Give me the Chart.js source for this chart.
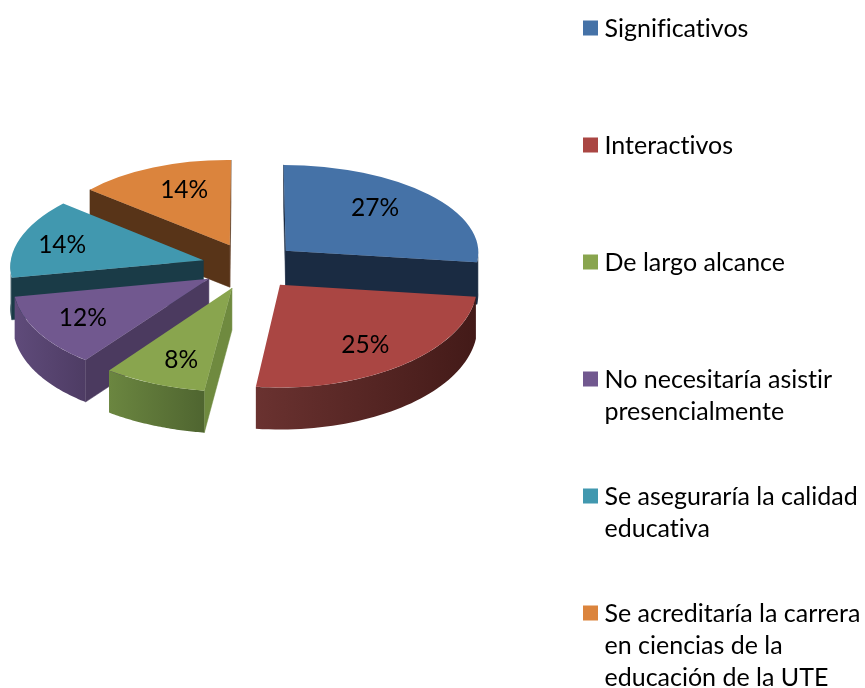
<!DOCTYPE html>
<html>
<head>
<meta charset="utf-8">
<title>Pie</title>
<style>
  html, body { margin: 0; padding: 0; background: #fff; }
  canvas { display: block; }
</style>
<script src="https://cdn.jsdelivr.net/npm/chart.js@4"></script>
</head>
<body>
<canvas id="pieChart" width="865" height="688"></canvas>
<script>
// values
var categories = [
    ['Significativos'],
    ['Interactivos'],
    ['De largo alcance'],
    ['No necesitaría asistir', 'presencialmente'],
    ['Se aseguraría la calidad', 'educativa'],
    ['Se acreditaría la carrera', 'en ciencias de la', 'educación de la UTE']
];
var percents = [27, 25, 8, 12, 14, 14];

var topColors = ['#4572a7', '#aa4643', '#89a54e', '#71588f', '#4198af', '#db843d'];
var radialColors = ['#1a2b42', '#4a1c1a', '#6f8a3f', '#4b3a5f', '#1a3b47', '#583418'];
var outerLeft = ['#1a2b42', '#6a3230', '#6b8640', '#5f4b7a', '#1a3b47', '#583418'];
var outerRight = ['#1a2b42', '#431a18', '#4f6530', '#4e3c64', '#1a3b47', '#583418'];

// small hand nudges for the percent labels
var labelNudge = [[-7, -2], [-3, 5], [3, 6], [-7, 3], [-13, 1], [8, 0]];

// fake 3D view of the flat pie
var view = { cx: 250, cy: 266, rx: 193, ry: 93.5, persp: 0.0665, explode: 0.25, depth: 42 };

function project(u, v) {
    var w = 1 / (1 - view.persp * v);
    return { x: view.cx + view.rx * u * w, y: view.cy + view.ry * v * w };
}

// affine that puts one flat arc onto its tilted spot
function sliceMatrix(arc) {
    var r = arc.outerRadius, a1 = arc.startAngle, a2 = arc.endAngle, mid = (a1 + a2) / 2;
    var ox = view.explode * Math.cos(mid), oy = view.explode * Math.sin(mid);
    var p0 = project(ox, oy);
    var p1 = project(ox + Math.cos(a1), oy + Math.sin(a1));
    var p2 = project(ox + Math.cos(a2), oy + Math.sin(a2));
    var sx1 = r * Math.cos(a1), sy1 = r * Math.sin(a1);
    var sx2 = r * Math.cos(a2), sy2 = r * Math.sin(a2);
    var det = sx1 * sy2 - sx2 * sy1;
    var dx1 = p1.x - p0.x, dy1 = p1.y - p0.y, dx2 = p2.x - p0.x, dy2 = p2.y - p0.y;
    var a = (dx1 * sy2 - dx2 * sy1) / det;
    var c = (dx2 * sx1 - dx1 * sx2) / det;
    var b = (dy1 * sy2 - dy2 * sy1) / det;
    var d = (dy2 * sx1 - dy1 * sx2) / det;
    return {
        a: a, b: b, c: c, d: d,
        e: p0.x - a * arc.x - c * arc.y,
        f: p0.y - b * arc.x - d * arc.y,
        apex: p0, start: p1, end: p2
    };
}

function applyTo(m, x, y) {
    return { x: m.a * x + m.c * y + m.e, y: m.b * x + m.d * y + m.f };
}

// true when the rest of the slice lies above the edge apex->edge, so its wall shows
function wallShows(apex, edge, other) {
    var dx = edge.x - apex.x;
    if (Math.abs(dx) < 0.01) return false;
    var lineY = apex.y + (other.x - apex.x) * (edge.y - apex.y) / dx;
    return other.y < lineY;
}

function drawRadialWall(ctx, apex, edge, color) {
    ctx.fillStyle = color;
    ctx.strokeStyle = color;
    ctx.lineWidth = 0.5;
    ctx.beginPath();
    ctx.moveTo(apex.x, apex.y);
    ctx.lineTo(edge.x, edge.y);
    ctx.lineTo(edge.x, edge.y + view.depth);
    ctx.lineTo(apex.x, apex.y + view.depth);
    ctx.closePath();
    ctx.fill();
    ctx.stroke();
}

function drawOuterWall(ctx, arc, m, i) {
    // only the part of the rim that faces the viewer, canvas angles 0..PI
    var from = arc.startAngle, to = arc.endAngle, pts = [], steps = 48, a, k;
    for (k = 0; k <= steps; k++) {
        a = from + (to - from) * k / steps;
        var norm = Math.atan2(Math.sin(a), Math.cos(a));
        if (norm >= -0.02 && norm <= Math.PI + 0.02) {
            pts.push(applyTo(m, arc.x + arc.outerRadius * Math.cos(a), arc.y + arc.outerRadius * Math.sin(a)));
        }
    }
    if (pts.length < 2) return;
    var minX = Math.min.apply(null, pts.map(function (p) { return p.x; }));
    var maxX = Math.max.apply(null, pts.map(function (p) { return p.x; }));
    var grad = ctx.createLinearGradient(minX, 0, maxX, 0);
    grad.addColorStop(0, outerLeft[i]);
    grad.addColorStop(1, outerRight[i]);
    ctx.fillStyle = grad;
    ctx.beginPath();
    pts.forEach(function (p, n) {
        if (n === 0) ctx.moveTo(p.x, p.y); else ctx.lineTo(p.x, p.y);
    });
    for (k = pts.length - 1; k >= 0; k--) ctx.lineTo(pts[k].x, pts[k].y + view.depth);
    ctx.closePath();
    ctx.fill();
}

var tiltedPie = {
    id: 'tiltedPie',
    beforeDatasetsDraw: function (chart) {
        var ctx = chart.ctx, arcs = chart.getDatasetMeta(0).data;
        var order = arcs.map(function (arc, i) { return i; });
        order.sort(function (p, q) {
            return Math.sin((arcs[p].startAngle + arcs[p].endAngle) / 2) -
                   Math.sin((arcs[q].startAngle + arcs[q].endAngle) / 2);
        });

        order.forEach(function (i) {
            var arc = arcs[i], m = sliceMatrix(arc);
            if (wallShows(m.apex, m.start, m.end)) drawRadialWall(ctx, m.apex, m.start, radialColors[i]);
            if (wallShows(m.apex, m.end, m.start)) drawRadialWall(ctx, m.apex, m.end, radialColors[i]);
            drawOuterWall(ctx, arc, m, i);

            ctx.save();
            ctx.transform(m.a, m.b, m.c, m.d, m.e, m.f);
            arc.draw(ctx);
            ctx.restore();
        });

        // percent labels
        ctx.save();
        ctx.fillStyle = '#000';
        ctx.font = '24.5px Lato, sans-serif';
        ctx.textAlign = 'center';
        ctx.textBaseline = 'middle';
        arcs.forEach(function (arc, i) {
            var mid = (arc.startAngle + arc.endAngle) / 2;
            var at = project((view.explode + 0.7) * Math.cos(mid), (view.explode + 0.7) * Math.sin(mid));
            ctx.fillText(percents[i] + '%', at.x + labelNudge[i][0], at.y + labelNudge[i][1]);
        });
        ctx.restore();

        // legend, even pitch no matter how many lines an entry has
        ctx.save();
        ctx.font = '25px Lato, sans-serif';
        ctx.textAlign = 'left';
        ctx.textBaseline = 'middle';
        ctx.textRendering = 'optimizeSpeed';
        categories.forEach(function (lines, i) {
            var y = 28 + i * 117;
            ctx.fillStyle = topColors[i];
            ctx.fillRect(583, y - 7.5, 15, 15);
            ctx.fillStyle = '#000';
            lines.forEach(function (line, n) {
                ctx.fillText(line, 604.5, y + 0.5 + n * 32);
            });
        });
        ctx.restore();
        return false;
    }
};

new Chart(document.getElementById('pieChart').getContext('2d'), {
    type: 'pie',
    data: {
        labels: categories,
        datasets: [{
            data: percents,
            backgroundColor: topColors,
            borderWidth: 0
        }]
    },
    options: {
        responsive: false,
        animation: false,
        plugins: {
            legend: { display: false },
            tooltip: { enabled: false }
        }
    },
    plugins: [tiltedPie]
});
</script>
</body>
</html>
